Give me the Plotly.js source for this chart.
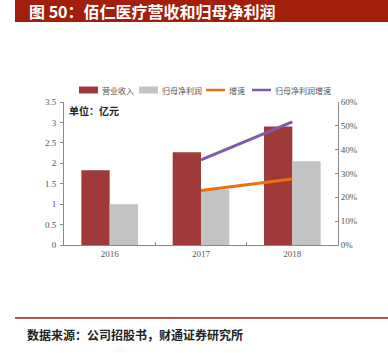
<!DOCTYPE html>
<html><head><meta charset="utf-8">
<script src="https://cdn.plot.ly/plotly-3.0.1.min.js"></script>
<style>html,body{margin:0;padding:0;background:#fff;}#chart{width:388px;height:353px;}</style>
</head><body><div id="chart"></div>
<script>
const years = ['2016', '2017', '2018'];
const revenue = [1.83, 2.27, 2.90];        // 营业收入 (亿元)
const netProfit = [1.00, 1.36, 2.05];      // 归母净利润 (亿元)
const revGrowthYears = ['2017', '2018'];
const revGrowth = [0.229, 0.277];          // 增速
const profitGrowth = [0.357, 0.517];       // 归母净利润增速
const seriesNames = ['营业收入', '归母净利润', '增速', '归母净利润增速'];
const seriesColors = ['#A0393A', '#C3C3C3', '#E8730C', '#7E5BA8'];

const W = 388, H = 353, L = 64, R = 338, T = 102, B = 245;
const px = x => (x - L) / (R - L);
const py = y => (B - y) / (B - T);

const tickFont = {family: 'Liberation Serif, serif', size: 9, color: '#555'};
const cjk = 'Noto Sans CJK SC, sans-serif';

const data = [
  {type: 'bar', x: years, y: revenue, name: seriesNames[0], marker: {color: seriesColors[0]}},
  {type: 'bar', x: years, y: netProfit, name: seriesNames[1], marker: {color: seriesColors[1]}},
  {type: 'scatter', mode: 'lines', x: revGrowthYears, y: revGrowth, name: seriesNames[2], yaxis: 'y2',
   line: {color: seriesColors[2], width: 3}},
  {type: 'scatter', mode: 'lines', x: revGrowthYears, y: profitGrowth, name: seriesNames[3], yaxis: 'y2',
   line: {color: seriesColors[3], width: 3}}
];

// manual legend (positions in pixels)
const legendX = [79, 139, 206, 252];
const legendY = 90;
const shapes = [
  {type: 'rect', xref: 'paper', yref: 'paper', x0: px(15), x1: px(388), y0: py(0), y1: py(22),
   fillcolor: '#A21F0B', line: {width: 0}},
  {type: 'line', xref: 'paper', yref: 'paper', x0: px(15), x1: px(388), y0: py(318), y1: py(318),
   line: {color: '#A21F0B', width: 1.5}}
];
const annotations = [
  {xref: 'paper', yref: 'paper', x: px(27), y: py(11), xanchor: 'left', yanchor: 'middle',
   text: '<b>图 50：佰仁医疗营收和归母净利润</b>', showarrow: false,
   font: {family: cjk, size: 16, color: '#fff'}},
  {xref: 'paper', yref: 'paper', x: px(67), y: py(110), xanchor: 'left', yanchor: 'middle',
   text: '<b>单位：亿元</b>', showarrow: false, font: {family: cjk, size: 10, color: '#222'}},
  {xref: 'paper', yref: 'paper', x: px(25), y: py(334), xanchor: 'left', yanchor: 'middle',
   text: '<b>数据来源：公司招股书，财通证券研究所</b>', showarrow: false,
   font: {family: cjk, size: 12, color: '#222'}}
];
seriesNames.forEach((n, i) => {
  const x0 = legendX[i], x1 = x0 + 19;
  if (i < 2) {
    shapes.push({type: 'rect', xref: 'paper', yref: 'paper', x0: px(x0), x1: px(x1),
      y0: py(legendY + 3.5), y1: py(legendY - 3.5), fillcolor: seriesColors[i], line: {width: 0}});
  } else {
    shapes.push({type: 'line', xref: 'paper', yref: 'paper', x0: px(x0), x1: px(x1),
      y0: py(legendY), y1: py(legendY), line: {color: seriesColors[i], width: 2.5}});
  }
  annotations.push({xref: 'paper', yref: 'paper', x: px(x1 + 1.5), y: py(legendY), xanchor: 'left',
    yanchor: 'middle', text: n, showarrow: false, font: {family: cjk, size: 8, color: '#555'}});
});

const layout = {
  width: W, height: H,
  margin: {l: L, r: W - R, t: T, b: H - B, pad: 0},
  paper_bgcolor: '#fff', plot_bgcolor: '#fff',
  barmode: 'group', bargap: 0.38, bargroupgap: 0,
  showlegend: false,
  xaxis: {type: 'category', showgrid: false, showline: true, linecolor: '#888', linewidth: 1,
          ticks: 'inside', tickson: 'boundaries', ticklen: 3, tickcolor: '#888',
          tickfont: tickFont, zeroline: false},
  yaxis: {range: [0, 3.5], dtick: 0.5, showgrid: false, showline: true, linecolor: '#888',
          ticks: 'outside', ticklen: 3, tickcolor: '#888', tickfont: tickFont, zeroline: false,
          ticklabelstandoff: 2},
  yaxis2: {range: [0, 0.6], dtick: 0.1, tickformat: '.0%', overlaying: 'y', side: 'right',
           showgrid: false, showline: true, linecolor: '#888', ticks: 'inside', ticklen: 3,
           tickcolor: '#888', tickfont: tickFont, zeroline: false},
  shapes: shapes,
  annotations: annotations
};

Plotly.newPlot('chart', data, layout, {displayModeBar: false, staticPlot: true});
</script></body></html>
